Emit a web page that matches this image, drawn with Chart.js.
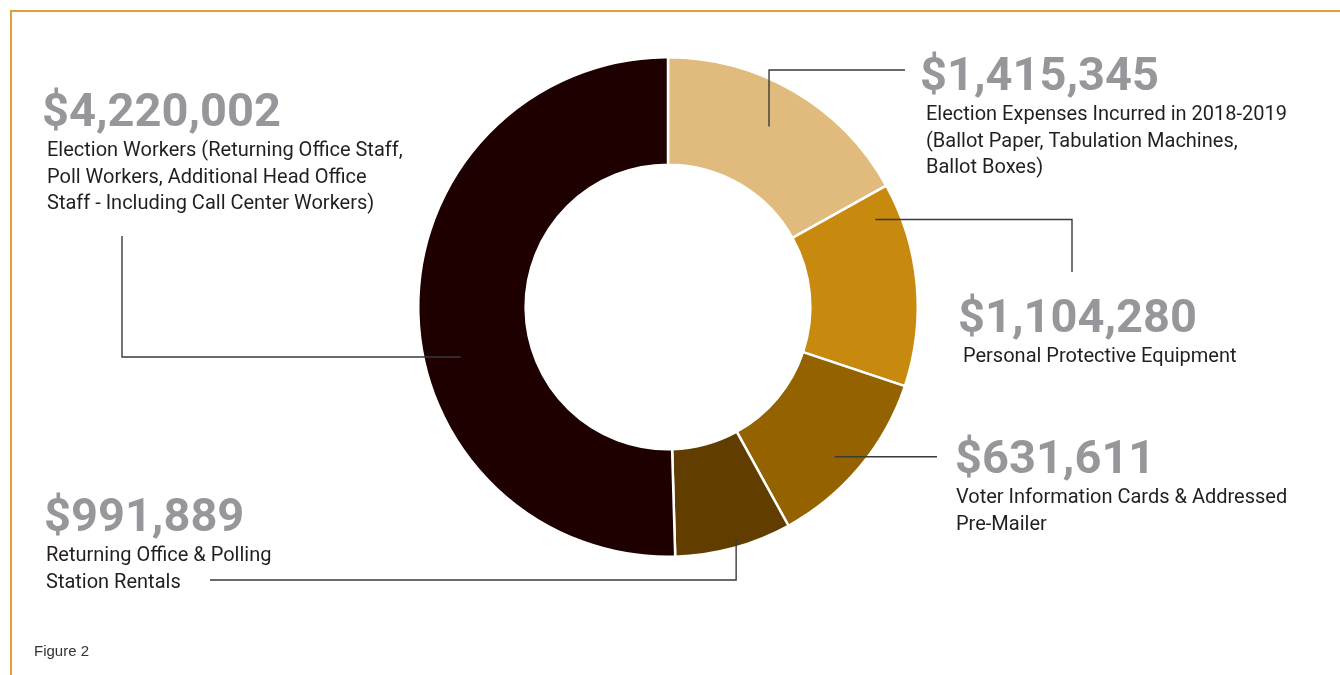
<!DOCTYPE html>
<html lang="en">
<head>
<meta charset="utf-8">
<title>Figure 2</title>
<script src="https://cdn.jsdelivr.net/npm/chart.js@4/dist/chart.umd.min.js"></script>
<style>
  html, body { margin: 0; padding: 0; background: #fff; }
  .frame {
    position: absolute; left: 10px; top: 10px; width: 1330px; height: 665px;
    border-top: 2px solid #e0a032; border-left: 2px solid #e0a032;
    box-sizing: border-box;
  }
  #wrap { position: absolute; left: 0; top: 0; width: 1340px; height: 675px; }
  .caption {
    position: absolute; left: 34px; top: 642px;
    font-family: "Liberation Sans", Arial, sans-serif; font-size: 15px; color: #333;
  }
</style>
</head>
<body>
<div class="frame"></div>
<div id="wrap"><canvas id="donut" width="1340" height="675"></canvas></div>
<div class="caption">Figure 2</div>

<script>
// slices, clockwise from the top
const categories = [
  'Election Expenses Incurred in 2018-2019',
  'Personal Protective Equipment',
  'Returning Office & Polling Station Rentals',
  'Voter Information Cards & Addressed Pre-Mailer',
  'Election Workers'
];
const values = [1415345, 1104280, 991889, 631611, 4220002];
const colors = ['#e1bb7e', '#c8890f', '#946300', '#613e00', '#1e0000'];

// callout texts as printed on the figure, each tied to a slice index
const calloutSlice = [0, 1, 2, 3, 4];
const calloutAmount = [1415345, 1104280, 631611, 991889, 4220002];
const calloutText = [
  ['Election Expenses Incurred in 2018-2019', '(Ballot Paper, Tabulation Machines,', 'Ballot Boxes)'],
  ['Personal Protective Equipment'],
  ['Voter Information Cards & Addressed', 'Pre-Mailer'],
  ['Returning Office & Polling', 'Station Rentals'],
  ['Election Workers (Returning Office Staff,', 'Poll Workers, Additional Head Office', 'Staff - Including Call Center Workers)']
];

// layout of the callouts (where text sits, where leader lines bend)
const calloutLayout = [
  { x: 920, y: 90, tx: 926, along: 0.48, depth: 0.6, path: [['v', 70], ['h', 905]] },
  { x: 958, y: 332, tx: 963, along: 0.13, depth: 0.77, path: [['h', 1072], ['v', 272]] },
  { x: 955, y: 473, tx: 956, along: 0.55, depth: 0.76, path: [['h', 937]] },
  { x: 44, y: 531, tx: 46, along: 0.46, depth: 0.93, path: [['v', 580], ['h', 210]] },
  { x: 42, y: 126, tx: 47, along: 0.43, depth: 0.66, path: [['h', 122], ['v', 236]] }
];

function money(v) {
  return '$' + v.toLocaleString('en-US');
}

const calloutPlugin = {
  id: 'callouts',
  afterDraw(chart) {
    const ctx = chart.ctx;
    const arcs = chart.getDatasetMeta(0).data;
    ctx.save();
    for (let i = 0; i < calloutSlice.length; i++) {
      const arc = arcs[calloutSlice[i]];
      const lay = calloutLayout[i];
      const p = arc.getProps(['x', 'y', 'startAngle', 'endAngle', 'innerRadius', 'outerRadius'], true);
      const a = p.startAngle + (p.endAngle - p.startAngle) * lay.along;
      const r = p.innerRadius + (p.outerRadius - p.innerRadius) * lay.depth;
      let x = p.x + Math.cos(a) * r;
      let y = p.y + Math.sin(a) * r;

      // leader line
      ctx.strokeStyle = '#3a3a3a';
      ctx.lineWidth = 1.4;
      ctx.beginPath();
      ctx.moveTo(x, y);
      for (const [dir, to] of lay.path) {
        if (dir === 'h') x = to; else y = to;
        ctx.lineTo(x, y);
      }
      ctx.stroke();

      // amount
      ctx.fillStyle = '#97979b';
      ctx.font = 'bold 47px Roboto';
      ctx.textBaseline = 'alphabetic';
      ctx.textAlign = 'left';
      ctx.fillText(money(calloutAmount[i]), lay.x, lay.y);

      // description
      ctx.fillStyle = '#231f20';
      ctx.font = '20px Roboto';
      calloutText[i].forEach((line, k) => {
        ctx.fillText(line, lay.tx, lay.y + 30 + k * 26.7);
      });
    }
    ctx.restore();
  }
};

new Chart(document.getElementById('donut'), {
  type: 'doughnut',
  data: {
    labels: categories,
    datasets: [{
      data: values,
      backgroundColor: colors,
      borderColor: '#ffffff',
      borderWidth: 2.5,
      hoverOffset: 0
    }]
  },
  options: {
    responsive: false,
    animation: false,
    cutout: '57%',
    layout: { padding: { left: 417, right: 421, top: 56, bottom: 117 } },
    plugins: {
      legend: { display: false },
      tooltip: { enabled: false }
    }
  },
  plugins: [calloutPlugin]
});
</script>
</body>
</html>
